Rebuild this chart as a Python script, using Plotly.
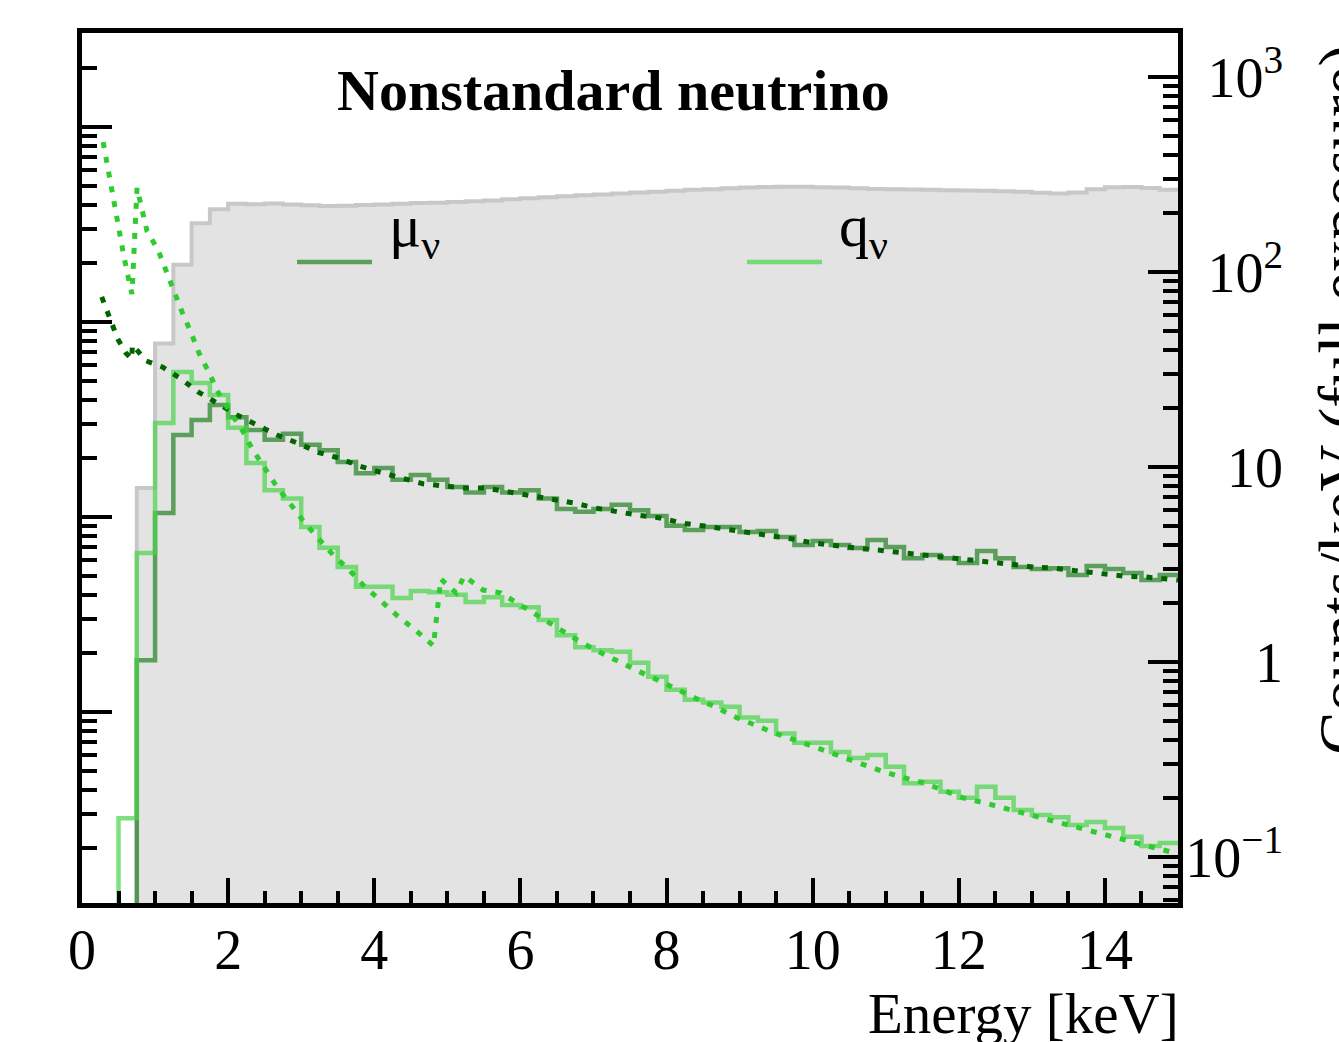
import plotly.graph_objects as go

# ---------------- data ----------------
bin_width = 0.25
bin_starts = [i * bin_width for i in range(60)]  # 0 .. 14.75 keV

background = [0, 0, 0, 7.8, 43, 109, 178, 210,
              224, 223, 225, 222, 220, 218, 219, 221, 222, 224, 226, 227,
              229, 231, 233, 236, 239, 242, 245, 248, 250, 253, 256, 258,
              261, 264, 266, 269, 271, 273, 274, 274, 272, 271, 269, 267,
              266, 265, 264, 263, 262, 261, 260, 258, 255, 253, 256, 266,
              272, 273, 270, 264]

mu_hist = [0, 0, 0, 1.02, 5.81, 14.6, 17.4, 20.8,
           18.0, 15.5, 13.8, 14.8, 13.0, 12.2, 10.6, 9.3, 9.9, 8.6, 9.1, 8.6,
           7.9, 7.4, 7.9, 7.4, 7.6, 6.9, 6.1, 5.9, 6.1, 6.4, 6.0, 5.6,
           5.0, 4.75, 4.92, 4.92, 4.64, 4.70, 4.38, 3.98, 4.18, 3.98, 3.84, 4.23,
           3.89, 3.41, 3.54, 3.41, 3.22, 3.71, 3.41, 3.07, 3.00, 3.03, 2.79, 3.11,
           3.00, 2.86, 2.63, 2.79]

q_hist = [0, 0, 0.158, 3.62, 16.8, 30.7, 27.0, 23.4,
          15.9, 10.5, 7.6, 6.9, 4.92, 3.85, 3.07, 2.43, 2.43, 2.13, 2.31, 2.28,
          2.21, 2.03, 2.15, 1.96, 1.91, 1.64, 1.37, 1.19, 1.15, 1.13, 0.99, 0.84,
          0.72, 0.64, 0.62, 0.59, 0.52, 0.50, 0.43, 0.385, 0.385, 0.345, 0.322, 0.333,
          0.290, 0.239, 0.243, 0.216, 0.201, 0.229, 0.201, 0.174, 0.164, 0.160, 0.146, 0.151,
          0.141, 0.127, 0.114, 0.118]

mu_model_E = [0.27, 0.37, 0.49, 0.60, 0.68, 0.69, 0.74, 0.88, 1.10, 1.34, 1.59, 1.85,
              2.12, 2.40, 2.67, 2.94, 3.23, 3.52, 3.80, 4.08, 4.38, 4.67, 4.95, 5.24,
              5.52, 5.85, 6.12, 6.42, 6.73, 7.03, 7.33, 7.60, 7.91, 8.21, 8.52, 8.82,
              9.12, 9.42, 9.73, 10.0, 10.3, 10.6, 10.9, 11.2, 11.5, 11.8, 12.1, 12.4,
              12.7, 13.0, 13.3, 13.6, 13.94, 14.24, 14.55, 14.8, 15.0]
mu_model = [74.5, 58.9, 45.3, 38.5, 35.8, 42.3, 40.3, 35.0, 32.6, 28.6, 24.3, 21.3,
            18.5, 16.4, 14.6, 13.3, 11.9, 11.1, 10.1, 9.4, 8.8, 8.2, 8.0, 7.8,
            7.80, 7.45, 7.18, 6.85, 6.54, 6.16, 5.88, 5.67, 5.48, 5.16, 4.98, 4.81,
            4.59, 4.43, 4.27, 4.08, 3.94, 3.84, 3.75, 3.62, 3.54, 3.45, 3.33, 3.26,
            3.18, 3.07, 3.03, 2.93, 2.86, 2.76, 2.73, 2.67, 2.63]

q_model_E = [0.29, 0.34, 0.40, 0.45, 0.49, 0.56, 0.62, 0.684, 0.753, 0.89, 1.04, 1.15,
             1.26, 1.37, 1.49, 1.60, 1.74, 1.87, 2.03, 2.19, 2.34, 2.50, 2.67, 2.86,
             3.05, 3.24, 3.45, 3.67, 3.87, 4.11, 4.32, 4.58, 4.81, 4.91, 5.12, 5.23,
             5.49, 5.73, 6.0, 6.24, 6.52, 6.76, 7.03, 7.30, 7.58, 7.85, 8.12, 8.39,
             8.67, 8.94, 9.21, 9.48, 9.76, 10.06, 10.36, 10.64, 10.91, 11.21, 11.52, 11.79,
             12.06, 12.36, 12.67, 12.97, 13.24, 13.55, 13.82, 14.12, 14.42, 14.70, 15.0]
q_model = [464, 362, 279, 215, 168, 128, 98.9, 77.1, 270, 162, 130, 101,
           80, 62.4, 49.2, 38.5, 30.4, 23.9, 19.1, 15.5, 12.2, 9.9, 7.9, 6.4,
           5.16, 4.28, 3.50, 2.93, 2.43, 2.03, 1.72, 1.44, 1.21, 2.67, 2.26, 2.76,
           2.34, 2.26, 1.96, 1.70, 1.49, 1.31, 1.15, 1.02, 0.910, 0.818, 0.727, 0.654,
           0.588, 0.522, 0.475, 0.432, 0.398, 0.362, 0.326, 0.303, 0.279, 0.257, 0.240, 0.221,
           0.201, 0.189, 0.176, 0.164, 0.155, 0.144, 0.134, 0.127, 0.118, 0.111, 0.104]

y_tick_vals = [0.1, 1, 10, 100, 1000]
y_tick_text = ["10<sup>\u22121</sup>", "1", "10", "10<sup>2</sup>", "10<sup>3</sup>"]
x_tick_vals = [0, 2, 4, 6, 8, 10, 12, 14]

# ---------------- helpers ----------------
FLOOR = 1e-3  # empty bins drawn below the visible range


def step_xy(values):
    xs = bin_starts + [bin_starts[-1] + bin_width]
    ys = [v if v > 0 else FLOOR for v in values]
    ys = ys + [ys[-1]]
    return xs, ys


SERIF = "Liberation Serif, Times New Roman, serif"
W, H = 1339, 1042
ML, MR, MT, MB = 82, 20, 33, 139
PW = W - ML - MR
PH = H - MT - MB
XDOM = 1096 / PW

fig = go.Figure()

bx, by = step_xy(background)
fig.add_trace(go.Scatter(x=bx, y=[FLOOR] * len(bx), mode="lines", line=dict(width=0, shape="hv"),
                         showlegend=False, hoverinfo="skip"))
fig.add_trace(go.Scatter(x=bx, y=by, mode="lines", line=dict(color="#c8c8c8", width=4, shape="hv"),
                         fill="tonexty", fillcolor="#e3e3e3", showlegend=False))

mx, my = step_xy(mu_hist)
fig.add_trace(go.Scatter(x=mx, y=my, mode="lines",
                         name="\u2009\u03bc<sub>\u03bd</sub><br>\u00a0",
                         line=dict(color="rgba(34,129,34,0.7)", width=4.5, shape="hv")))
qx, qy = step_xy(q_hist)
fig.add_trace(go.Scatter(x=qx, y=qy, mode="lines",
                         name="\u2009q<sub>\u03bd</sub><br>\u00a0",
                         line=dict(color="rgba(73,211,73,0.7)", width=4.5, shape="hv")))

fig.add_trace(go.Scatter(x=mu_model_E, y=mu_model, mode="lines", showlegend=False,
                         line=dict(color="#006400", width=5, dash="6px,9px")))
fig.add_trace(go.Scatter(x=q_model_E, y=q_model, mode="lines", showlegend=False,
                         line=dict(color="#2ecc2e", width=5, dash="6px,9px")))

# dummy traces so the extra axes render
fig.add_trace(go.Scatter(x=[None], y=[None], yaxis="y2", showlegend=False, hoverinfo="skip"))
fig.add_trace(go.Scatter(x=[None], y=[None], yaxis="y3", showlegend=False, hoverinfo="skip"))


def minor_vals(lo, hi):
    out = []
    for e in range(lo, hi):
        for m in range(2, 10):
            out.append(m * 10 ** e)
    return out


YR = [-1.236, 3.226]
YR_LEFT = [-0.979, 3.482]

fig.update_layout(
    width=W, height=H,
    margin=dict(l=ML, r=MR, t=MT, b=MB),
    paper_bgcolor="white", plot_bgcolor="white",
    font=dict(family=SERIF, size=56, color="black"),
    xaxis=dict(domain=[0, XDOM], range=[0, 15], showgrid=False, zeroline=False,
               showline=True, linewidth=5, linecolor="black", mirror=True,
               ticks="inside", ticklen=25, tickwidth=4, tickcolor="black",
               tickvals=x_tick_vals, ticktext=[str(v) for v in x_tick_vals],
               tickfont=dict(family=SERIF, size=56), ticklabelstandoff=-6,
               minor=dict(ticks="inside", ticklen=12, tickwidth=4, tickcolor="black", dtick=0.5)),
    yaxis=dict(type="log", range=YR, side="right", anchor="x", showgrid=False, zeroline=False,
               showline=True, linewidth=5, linecolor="black",
               ticks="inside", ticklen=30, tickwidth=4, tickcolor="black",
               tickvals=y_tick_vals, showticklabels=False,
               minor=dict(ticks="inside", ticklen=15, tickwidth=4, tickcolor="black",
                          tickvals=minor_vals(-2, 4))),
    yaxis2=dict(type="log", range=YR_LEFT, side="left", anchor="x", overlaying="y",
                showgrid=False, zeroline=False,
                showline=True, linewidth=5, linecolor="black",
                ticks="inside", ticklen=30, tickwidth=4, tickcolor="black",
                tickvals=[0.1, 1, 10, 100, 1000, 10000], showticklabels=False,
                minor=dict(ticks="inside", ticklen=15, tickwidth=4, tickcolor="black",
                           tickvals=minor_vals(-2, 4))),
    yaxis3=dict(type="log", range=YR, side="left", anchor="free", position=(1283 - ML) / PW,
                overlaying="y", showgrid=False, zeroline=False, showline=False, ticks="",
                tickvals=y_tick_vals, ticktext=y_tick_text,
                tickfont=dict(family=SERIF, size=56)),
    showlegend=True,
    legend=dict(orientation="h", x=(292 - ML) / PW, y=(MT + PH - 262) / PH,
                xanchor="left", yanchor="middle", bgcolor="rgba(0,0,0,0)",
                font=dict(family=SERIF, size=60), itemwidth=75, valign="middle",
                entrywidth=360, entrywidthmode="pixels",
                traceorder="normal", tracegroupgap=0),
)

fig.add_annotation(text="<b>Nonstandard neutrino</b>", xref="paper", yref="paper",
                   x=(613 - ML) / PW, y=(MT + PH - 90) / PH, xanchor="center", yanchor="middle",
                   showarrow=False, font=dict(family=SERIF, size=58, color="black"))
fig.add_annotation(text="Energy [keV]", xref="paper", yref="paper",
                   x=(1181 - ML) / PW, y=(MT + PH - 1013) / PH, xanchor="right", yanchor="middle",
                   showarrow=False, font=dict(family=SERIF, size=57, color="black"))
fig.add_annotation(text="Counts/keV (full exposure)", xref="paper", yref="paper",
                   x=(1342 - ML) / PW, y=(MT + PH - 400) / PH, xanchor="center", yanchor="middle",
                   textangle=-90, showarrow=False, font=dict(family=SERIF, size=65, color="black"))

fig.write_html("out.html")
